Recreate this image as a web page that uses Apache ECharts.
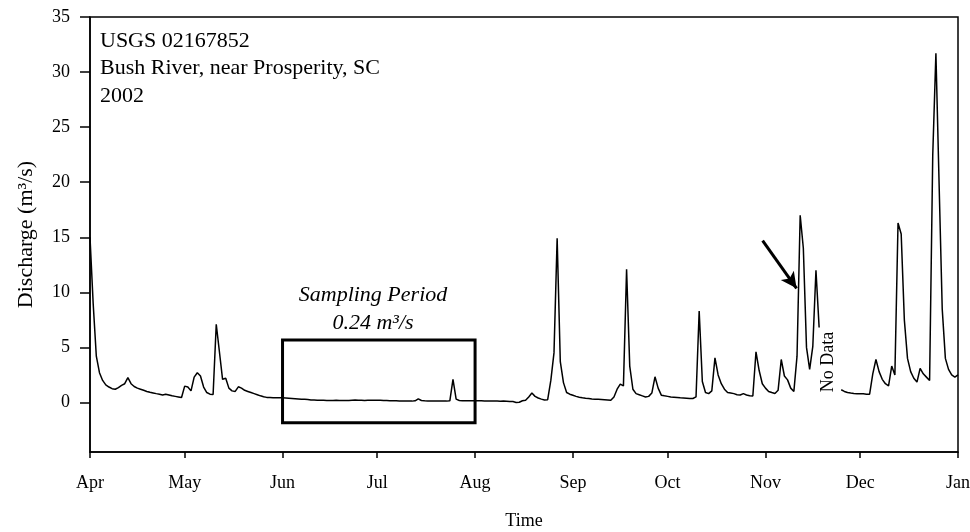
<!DOCTYPE html>
<html>
<head>
<meta charset="utf-8">
<script src="https://cdn.jsdelivr.net/npm/echarts@6/dist/echarts.min.js"></script>
<style>html,body{margin:0;padding:0;background:#fff}#c{width:970px;height:532px}</style>
</head>
<body>
<div id="c"></div>
<script>
// Daily discharge (m3/s), USGS 02167852, one value per day starting 2002-04-01 (day 0); null = no data
const discharge = [
  15.0, 9.0, 4.2, 2.7, 2.0, 1.6, 1.4, 1.25, 1.2, 1.35,
  1.55, 1.7, 2.25, 1.7, 1.45, 1.3, 1.2, 1.1, 1.0, 0.92,
  0.86, 0.8, 0.75, 0.68, 0.75, 0.68, 0.6, 0.55, 0.5, 0.45,
  1.48, 1.4, 1.05, 2.3, 2.7, 2.4, 1.4, 0.9, 0.75, 0.72,
  7.1, 4.6, 2.1, 2.2, 1.3, 1.05, 1.0, 1.42, 1.3, 1.1,
  1.0, 0.9, 0.8, 0.7, 0.6, 0.52, 0.46, 0.44, 0.42, 0.42,
  0.43, 0.42, 0.4, 0.38, 0.36, 0.34, 0.32, 0.3, 0.28, 0.26,
  0.22, 0.22, 0.2, 0.2, 0.19, 0.18, 0.18, 0.17, 0.2, 0.18,
  0.17, 0.17, 0.18, 0.2, 0.22, 0.2, 0.2, 0.18, 0.2, 0.2,
  0.21, 0.2, 0.2, 0.18, 0.17, 0.16, 0.15, 0.15, 0.14, 0.14,
  0.13, 0.13, 0.12, 0.15, 0.33, 0.18, 0.15, 0.14, 0.14, 0.13,
  0.13, 0.12, 0.12, 0.12, 0.15, 2.1, 0.3, 0.18, 0.15, 0.15,
  0.15, 0.15, 0.15, 0.15, 0.15, 0.14, 0.13, 0.13, 0.12, 0.12,
  0.1, 0.12, 0.1, 0.08, 0.08, 0.0, 0.02, 0.15, 0.2, 0.5,
  0.85, 0.55, 0.4, 0.3, 0.22, 0.25, 2.0, 4.5, 14.9, 3.7,
  1.8, 0.9, 0.75, 0.65, 0.55, 0.48, 0.42, 0.38, 0.35, 0.32,
  0.3, 0.28, 0.26, 0.24, 0.22, 0.2, 0.5, 1.2, 1.66, 1.5,
  12.1, 3.3, 1.2, 0.8, 0.7, 0.6, 0.5, 0.55, 0.85, 2.33,
  1.3, 0.66, 0.6, 0.55, 0.5, 0.48, 0.45, 0.42, 0.4, 0.38,
  0.36, 0.36, 0.5, 8.3, 1.9, 0.9, 0.8, 1.05, 4.05, 2.5,
  1.7, 1.2, 0.9, 0.85, 0.8, 0.7, 0.68, 0.8, 0.68, 0.6,
  0.58, 4.6, 2.9, 1.7, 1.3, 1.0, 0.9, 0.82, 1.1, 3.9,
  2.4, 2.05, 1.3, 1.0, 4.2, 17.0, 14.0, 5.0, 3.0, 5.1,
  12.0, 6.8, null, null, null, null, null, null, 1.15, 1.0,
  0.9, 0.85, 0.82, 0.8, 0.8, 0.78, 0.75, 0.75, 2.6, 3.9,
  2.8, 2.1, 1.7, 1.5, 3.3, 2.5, 16.3, 15.3, 7.5, 4.0,
  2.8, 2.2, 1.85, 3.1, 2.6, 2.3, 2.0, 22.5, 31.7, 20.0,
  8.5, 4.0, 3.0, 2.5, 2.3, 2.5
];
// Month boundaries as day offsets from 2002-04-01, and their labels
const monthStartDays = [0, 30, 61, 91, 122, 153, 183, 214, 244, 275];
const monthLabels = ['Apr', 'May', 'Jun', 'Jul', 'Aug', 'Sep', 'Oct', 'Nov', 'Dec', 'Jan'];
const yTickValues = [0, 5, 10, 15, 20, 25, 30, 35];
const yRange = [-4.5, 35];
const xRange = [0, 275];
// Sampling period box (days, discharge)
const samplingBox = { fromDay: 61, toDay: 122, top: 5.66, bottom: -1.85 };
// Arrow (days, discharge)
const arrowFrom = [213.1, 14.7];
const arrowTo = [223.85, 10.36];

const seriesData = discharge.map((v, i) => [i, v]);

const FONT = 'Liberation Serif';
const chart = echarts.init(document.getElementById('c'));
chart.setOption({
  animation: false,
  backgroundColor: '#fff',
  textStyle: { fontFamily: FONT, color: '#000' },
  grid: { left: 90, right: 12, top: 17, bottom: 80, outerBoundsMode: 'none', containLabel: false, show: true, borderColor: '#000', borderWidth: 1.5, backgroundColor: 'transparent' },
  xAxis: {
    type: 'value',
    min: xRange[0], max: xRange[1],
    name: 'Time', nameLocation: 'middle', nameGap: 60,
    nameTextStyle: { fontFamily: FONT, fontSize: 18, color: '#000' },
    axisLine: { show: true, onZero: false, lineStyle: { color: '#000', width: 1.5 } },
    axisTick: { show: true, length: 6, lineStyle: { color: '#000', width: 1.5 }, customValues: monthStartDays },
    axisLabel: {
      customValues: monthStartDays, fontFamily: FONT, fontSize: 18, color: '#000', margin: 22,
      formatter: v => { const k = monthStartDays.indexOf(v); return k >= 0 ? monthLabels[k] : ''; }
    },
    splitLine: { show: false }
  },
  yAxis: {
    type: 'value',
    min: yRange[0], max: yRange[1],
    name: 'Discharge (m³/s)', nameLocation: 'middle', nameGap: 53, nameRotate: 90,
    nameTextStyle: { fontFamily: FONT, fontSize: 22, color: '#000' },
    axisLine: { show: true, onZero: false, lineStyle: { color: '#000', width: 1.5 } },
    axisTick: { show: true, inside: false, length: 10, lineStyle: { color: '#000', width: 1.5 }, customValues: yTickValues },
    axisLabel: { customValues: yTickValues, fontFamily: FONT, fontSize: 18, color: '#000', margin: 20 },
    splitLine: { show: false }
  },
  series: [{
    type: 'line',
    data: seriesData,
    showSymbol: false,
    connectNulls: false,
    lineStyle: { color: '#000', width: 1.5 },
    itemStyle: { color: '#000' },
    markArea: {
      silent: true,
      label: { show: false },
      itemStyle: { color: 'rgba(0,0,0,0)', borderColor: '#000', borderWidth: 3 },
      data: [[
        { coord: [samplingBox.fromDay, samplingBox.top] },
        { coord: [samplingBox.toDay, samplingBox.bottom] }
      ]]
    },
    markLine: {
      silent: true,
      symbol: ['none', 'arrow'],
      symbolSize: [12, 16],
      label: { show: false },
      lineStyle: { color: '#000', width: 3, type: 'solid' },
      data: [[
        { coord: arrowFrom },
        { coord: arrowTo }
      ]]
    }
  }],
  graphic: [
    { type: 'text', left: 100, top: 30, style: { text: 'USGS 02167852', font: '22px "Liberation Serif"', fill: '#000' } },
    { type: 'text', left: 100, top: 57.5, style: { text: 'Bush River, near Prosperity, SC', font: '22px "Liberation Serif"', fill: '#000' } },
    { type: 'text', left: 100, top: 85, style: { text: '2002', font: '22px "Liberation Serif"', fill: '#000' } },
    { type: 'text', x: 373, y: 295, style: { text: 'Sampling Period', font: 'italic 22px "Liberation Serif"', fill: '#000', align: 'center', verticalAlign: 'middle', textAlign: 'center', textVerticalAlign: 'middle' } },
    { type: 'text', x: 373, y: 323, style: { text: '0.24 m³/s', font: 'italic 22px "Liberation Serif"', fill: '#000', align: 'center', verticalAlign: 'middle', textAlign: 'center', textVerticalAlign: 'middle' } },
    { type: 'text', x: 828, y: 362, rotation: Math.PI / 2, style: { text: 'No Data', font: '18px "Liberation Serif"', fill: '#000', align: 'center', verticalAlign: 'middle', textAlign: 'center', textVerticalAlign: 'middle' } }
  ]
});
</script>
</body>
</html>
